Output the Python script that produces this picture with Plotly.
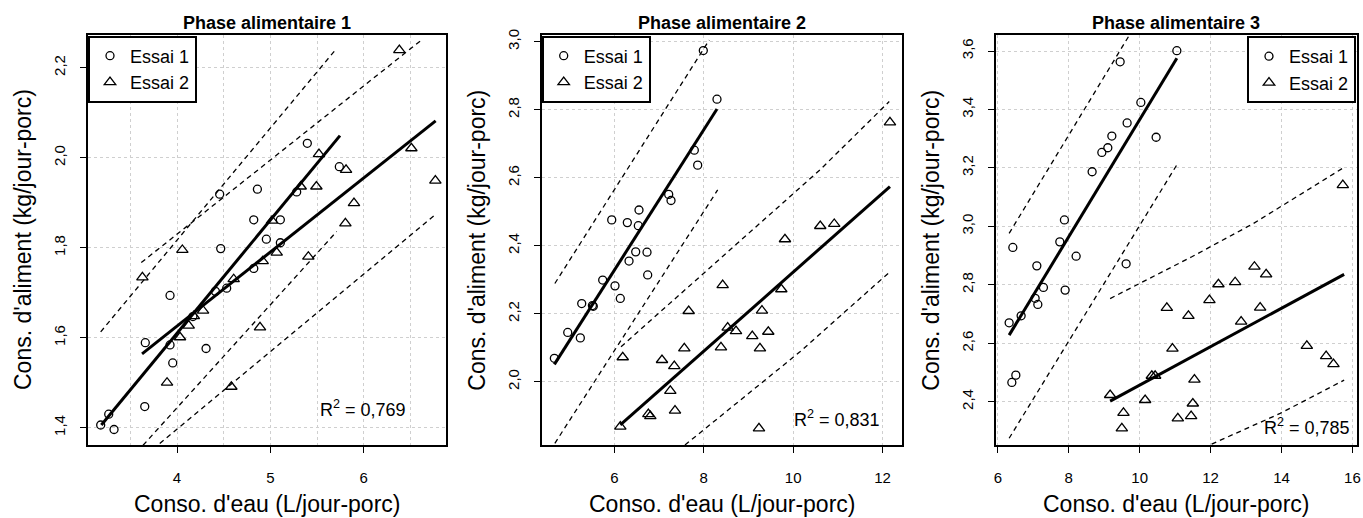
import plotly.graph_objects as go

# ---------------- data ----------------
# Phase 1
p1_e1_x = [3.182, 3.268, 3.325, 3.654, 3.66, 3.925, 3.925, 3.954, 4.311, 4.411, 4.468, 4.457,
           4.532, 4.822, 4.822, 4.861, 4.957, 5.107, 5.107, 5.396, 5.282, 5.739, 4.17]
p1_e1_y = [1.406, 1.430, 1.396, 1.447, 1.589, 1.694, 1.584, 1.544, 1.576, 1.703, 1.798, 1.919,
           1.710, 1.754, 1.862, 1.930, 1.819, 1.862, 1.811, 2.032, 1.924, 1.980, 1.647]
p1_e2_x = [6.382, 5.521, 5.325, 5.493, 5.811, 6.511, 6.768, 5.896, 5.804, 5.018, 5.068, 4.918,
           5.407, 4.889, 3.629, 4.057, 4.032, 3.893, 4.125, 4.279, 4.582, 4.607, 4.18]
p1_e2_y = [2.239, 2.008, 1.936, 1.936, 1.973, 2.021, 1.949, 1.899, 1.854, 1.860, 1.789, 1.770,
           1.780, 1.623, 1.734, 1.795, 1.601, 1.500, 1.627, 1.660, 1.491, 1.730, 1.648]
p1_fit1_x, p1_fit1_y = [3.189, 5.746], [1.406, 2.049]
p1_fit2_x, p1_fit2_y = [3.625, 6.771], [1.564, 2.082]
p1_up1_x, p1_up1_y = [3.182, 5.711], [1.613, 2.243]
p1_lo1_x, p1_lo1_y = [3.636, 5.711], [1.361, 1.836]
p1_up2_x, p1_up2_y = [3.617, 6.622], [1.767, 2.262]
p1_lo2_x, p1_lo2_y = [3.815, 6.764], [1.365, 1.873]

# Phase 2
p2_e1_x = [7.99, 8.296, 7.789, 7.864, 7.216, 7.268, 6.552, 6.537, 6.291, 5.942, 6.478, 6.731,
           6.329, 6.746, 5.740, 6.015, 6.134, 5.271, 5.53, 5.51, 4.958, 5.24, 4.659]
p2_e1_y = [2.974, 2.831, 2.681, 2.637, 2.551, 2.533, 2.505, 2.459, 2.468, 2.476, 2.382, 2.381,
           2.355, 2.314, 2.299, 2.282, 2.245, 2.230, 2.222, 2.224, 2.145, 2.129, 2.069]
p2_e2_x = [8.423, 7.663, 8.535, 8.385, 7.565, 7.341, 7.066, 6.188, 7.252, 7.357, 6.761, 6.805,
           6.134, 10.918, 10.605, 9.816, 9.734, 9.302, 8.721, 9.443, 9.085, 9.257, 9.235, 12.164]
p2_e2_y = [2.284, 2.208, 2.159, 2.101, 2.098, 2.046, 2.064, 2.072, 1.973, 1.915, 1.905, 1.899,
           1.868, 2.464, 2.458, 2.419, 2.272, 2.209, 2.149, 2.147, 2.134, 2.098, 1.863, 2.763]
p2_fit1_x, p2_fit1_y = [4.659, 8.296], [2.051, 2.802]
p2_fit2_x, p2_fit2_y = [6.134, 12.164], [1.873, 2.574]
p2_up1_x, p2_up1_y = [4.67, 8.124], [2.289, 3.005]
p2_lo1_x, p2_lo1_y = [4.67, 8.311], [1.819, 2.564]
p2_up2_x, p2_up2_y = [6.15, 7.914, 10.599, 12.148], [2.103, 2.309, 2.623, 2.824]
p2_lo2_x, p2_lo2_y = [7.58, 10.151, 12.126], [1.814, 2.088, 2.319]

# Phase 3
p3_e1_x = [11.048, 9.449, 10.033, 9.646, 10.464, 9.215, 9.102, 8.933, 8.659, 7.878, 7.748, 6.423,
           8.208, 9.618, 7.1, 7.286, 7.898, 7.052, 7.128, 6.657, 6.319, 6.508, 6.395]
p3_e1_y = [3.601, 3.563, 3.424, 3.354, 3.305, 3.309, 3.269, 3.253, 3.187, 3.022, 2.947, 2.928,
           2.898, 2.872, 2.865, 2.791, 2.782, 2.754, 2.733, 2.694, 2.670, 2.491, 2.466]
p3_e2_x = [10.766, 10.924, 10.343, 10.436, 9.167, 10.154, 9.543, 9.497, 11.076, 15.729, 13.236, 13.566,
           12.221, 12.692, 11.967, 13.397, 11.375, 12.861, 14.714, 15.258, 15.465, 11.544, 11.499, 11.451]
p3_e2_y = [2.721, 2.582, 2.489, 2.489, 2.423, 2.406, 2.362, 2.309, 2.343, 3.141, 2.862, 2.836,
           2.802, 2.809, 2.748, 2.722, 2.694, 2.674, 2.591, 2.556, 2.529, 2.476, 2.394, 2.351]
p3_fit1_x, p3_fit1_y = [6.319, 11.048], [2.628, 3.575]
p3_fit2_x, p3_fit2_y = [9.167, 15.766], [2.402, 2.836]
p3_up1_x, p3_up1_y = [6.319, 9.683], [2.976, 3.649]
p3_lo1_x, p3_lo1_y = [6.319, 11.076], [2.275, 3.216]
p3_up2_x, p3_up2_y = [9.167, 11.47, 13.21, 15.766], [2.753, 2.896, 3.010, 3.202]
p3_lo2_x, p3_lo2_y = [12.03, 13.961, 15.766], [2.255, 2.360, 2.474]

panel_titles = ["Phase alimentaire 1", "Phase alimentaire 2", "Phase alimentaire 3"]
r2_labels = ["R<sup>2</sup> = 0,769", "R<sup>2</sup> = 0,831", "R<sup>2</sup> = 0,785"]
x_title = "Conso. d'eau (L/jour-porc)"
y_title = "Cons. d'aliment (kg/jour-porc)"
series_names = ["Essai 1", "Essai 2"]

# ---------------- figure ----------------
W, H = 1363, 518
FONT = "Liberation Sans, Arial, sans-serif"
fig = go.Figure()

panels = [
    dict(e1=(p1_e1_x, p1_e1_y), e2=(p1_e2_x, p1_e2_y),
         fits=[(p1_fit1_x, p1_fit1_y), (p1_fit2_x, p1_fit2_y)],
         bands=[(p1_up1_x, p1_up1_y), (p1_lo1_x, p1_lo1_y), (p1_up2_x, p1_up2_y), (p1_lo2_x, p1_lo2_y)]),
    dict(e1=(p2_e1_x, p2_e1_y), e2=(p2_e2_x, p2_e2_y),
         fits=[(p2_fit1_x, p2_fit1_y), (p2_fit2_x, p2_fit2_y)],
         bands=[(p2_up1_x, p2_up1_y), (p2_lo1_x, p2_lo1_y), (p2_up2_x, p2_up2_y), (p2_lo2_x, p2_lo2_y)]),
    dict(e1=(p3_e1_x, p3_e1_y), e2=(p3_e2_x, p3_e2_y),
         fits=[(p3_fit1_x, p3_fit1_y), (p3_fit2_x, p3_fit2_y)],
         bands=[(p3_up1_x, p3_up1_y), (p3_lo1_x, p3_lo1_y), (p3_up2_x, p3_up2_y), (p3_lo2_x, p3_lo2_y)]),
]
legends = ["legend", "legend2", "legend3"]

for i, p in enumerate(panels):
    xa = "x" if i == 0 else f"x{i+1}"
    ya = "y" if i == 0 else f"y{i+1}"
    for bx, by in p["bands"]:
        fig.add_trace(go.Scatter(x=bx, y=by, mode="lines", xaxis=xa, yaxis=ya, showlegend=False,
                                 line=dict(color="black", width=1.3, dash="5px,4px"), hoverinfo="skip"))
    for fx, fy in p["fits"]:
        fig.add_trace(go.Scatter(x=fx, y=fy, mode="lines", xaxis=xa, yaxis=ya, showlegend=False,
                                 line=dict(color="black", width=3), hoverinfo="skip"))
    fig.add_trace(go.Scatter(x=p["e1"][0], y=p["e1"][1], mode="markers", name=series_names[0],
                             xaxis=xa, yaxis=ya, legend=legends[i],
                             marker=dict(symbol="circle-open", size=8, color="black", line=dict(width=1.3))))
    fig.add_trace(go.Scatter(x=p["e2"][0], y=p["e2"][1], mode="markers", name=series_names[1],
                             xaxis=xa, yaxis=ya, legend=legends[i],
                             marker=dict(symbol="triangle-up-open", size=10, color="black", line=dict(width=1.3))))

# geometry in pixels
xdom_px = [(88, 446), (541.7, 902.3), (995.7, 1356.7)]
ydom = [1 - 445 / H, 1 - 35 / H]
xranges = [[3.046, 6.882], [4.376, 12.44], [5.94, 16.12]]
yranges = [[1.3616, 2.2727], [1.814, 3.0197], [2.252, 3.6548]]
xdticks = [1, 2, 2]
GRID = "#cfcfcf"

axis_common = dict(showline=True, mirror=True, linecolor="black", linewidth=1.6,
                   ticks="outside", ticklen=6, tickwidth=1.2, tickcolor="black",
                   showgrid=True, gridcolor=GRID, griddash="dot", gridwidth=1,
                   zeroline=False, automargin=False,
                   tickfont=dict(family=FONT, size=15, color="black"))

layout_axes = {}
for i in range(3):
    sx = "xaxis" if i == 0 else f"xaxis{i+1}"
    sy = "yaxis" if i == 0 else f"yaxis{i+1}"
    ya = "y" if i == 0 else f"y{i+1}"
    xa = "x" if i == 0 else f"x{i+1}"
    xd = dict(axis_common, domain=[xdom_px[i][0] / W, xdom_px[i][1] / W], range=xranges[i],
              anchor=ya, dtick=xdticks[i], tick0=0, ticklabelstandoff=12)
    if i == 0:
        xd["minor"] = dict(dtick=0.5, tick0=0, showgrid=True, gridcolor=GRID, griddash="dot", gridwidth=1)
    yd = dict(axis_common, domain=ydom, range=yranges[i], anchor=xa, dtick=0.2, tick0=0,
              tickformat=".1f", tickangle=-90, ticklabelstandoff=9)
    layout_axes[sx] = xd
    layout_axes[sy] = yd

annotations = []
for i in range(3):
    xr = "x domain" if i == 0 else f"x{i+1} domain"
    yr = "y domain" if i == 0 else f"y{i+1} domain"
    annotations.append(dict(text=f"<b>{panel_titles[i]}</b>", xref=xr, yref="paper", x=0.5, y=1 - 23 / H,
                            xanchor="center", yanchor="middle", showarrow=False,
                            font=dict(family=FONT, size=18, color="black")))
    annotations.append(dict(text=x_title, xref=xr, yref="paper", x=0.5, y=1 - 504 / H,
                            xanchor="center", yanchor="middle", showarrow=False,
                            font=dict(family=FONT, size=23, color="black")))
    annotations.append(dict(text=y_title, xref=xr, yref=yr, x=0, y=0.5, xshift=-65,
                            xanchor="center", yanchor="middle", textangle=-90, showarrow=False,
                            font=dict(family=FONT, size=23, color="black")))
r2_pos = [(0.769, 0.0895), (0.818, 0.065), (0.8615, 0.0446)]
for i in range(3):
    xr = "x domain" if i == 0 else f"x{i+1} domain"
    yr = "y domain" if i == 0 else f"y{i+1} domain"
    annotations.append(dict(text=r2_labels[i], xref=xr, yref=yr, x=r2_pos[i][0], y=r2_pos[i][1],
                            xanchor="center", yanchor="middle", showarrow=False,
                            font=dict(family=FONT, size=18, color="black")))

leg_common = dict(bordercolor="black", borderwidth=2, bgcolor="white",
                  font=dict(family=FONT, size=18, color="black"), yanchor="top", tracegroupgap=0,
                  itemsizing="trace")

fig.update_layout(
    width=W, height=H, margin=dict(l=0, r=0, t=0, b=0, autoexpand=False),
    paper_bgcolor="white", plot_bgcolor="white",
    separators=", ",
    annotations=annotations,
    legend=dict(leg_common, x=88 / W, xanchor="left", y=1 - 35.5 / H),
    legend2=dict(leg_common, x=541.7 / W, xanchor="left", y=1 - 35.5 / H),
    legend3=dict(leg_common, x=1356 / W, xanchor="right", y=1 - 36 / H),
    **layout_axes,
)

fig.write_html("out.html", config={"displayModeBar": False},
               post_script="document.body.style.margin='0';document.body.style.overflow='hidden';")
